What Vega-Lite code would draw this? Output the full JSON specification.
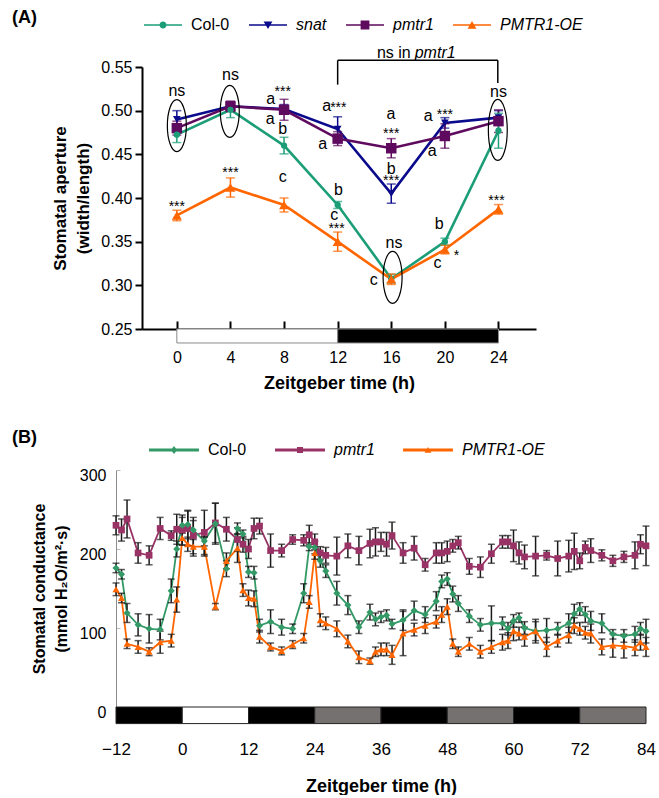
{
  "$schema": "https://vega.github.io/schema/vega-lite/v6.json",
  "padding": {"left": 12, "top": 5, "right": 5, "bottom": 0},
  "background": "white",
  "spacing": 32,
  "resolve": {"scale": {"color": "independent", "shape": "independent", "fill": "independent", "stroke": "independent"}, "legend": {"color": "independent", "shape": "independent"}},
  "config": {
    "font": "Liberation Sans",
    "view": {"stroke": null},
    "style": {"guide-title": {"lineBreak": "|"}},
    "axis": {"grid": false, "labelColor": "black", "titleColor": "black", "labelOverlap": false, "labelFlush": false},
    "legend": {"labelFont": "Liberation Sans", "labelColor": "black", "padding": 0}
  },
  "datasets": {
    "A": [
      {"t": 0, "s": "Col-0", "v": 0.4725, "e": 0.009}, {"t": 4, "s": "Col-0", "v": 0.501, "e": 0.009}, {"t": 8, "s": "Col-0", "v": 0.46, "e": 0.0095}, {"t": 12, "s": "Col-0", "v": 0.392, "e": 0.004}, {"t": 16, "s": "Col-0", "v": 0.3076, "e": 0.005}, {"t": 20, "s": "Col-0", "v": 0.35, "e": 0.004}, {"t": 24, "s": "Col-0", "v": 0.477, "e": 0.02},
      {"t": 0, "s": "snat", "v": 0.49, "e": 0.01}, {"t": 4, "s": "snat", "v": 0.505, "e": 0.004}, {"t": 8, "s": "snat", "v": 0.502, "e": 0.005}, {"t": 12, "s": "snat", "v": 0.479, "e": 0.014}, {"t": 16, "s": "snat", "v": 0.405, "e": 0.011}, {"t": 20, "s": "snat", "v": 0.486, "e": 0.006}, {"t": 24, "s": "snat", "v": 0.492, "e": 0.008},
      {"t": 0, "s": "pmtr1", "v": 0.48, "e": 0.008}, {"t": 4, "s": "pmtr1", "v": 0.505, "e": 0.006}, {"t": 8, "s": "pmtr1", "v": 0.501, "e": 0.012}, {"t": 12, "s": "pmtr1", "v": 0.468, "e": 0.008}, {"t": 16, "s": "pmtr1", "v": 0.457, "e": 0.011}, {"t": 20, "s": "pmtr1", "v": 0.471, "e": 0.014}, {"t": 24, "s": "pmtr1", "v": 0.488, "e": 0.013},
      {"t": 0, "s": "PMTR1-OE", "v": 0.38, "e": 0.006}, {"t": 4, "s": "PMTR1-OE", "v": 0.412, "e": 0.011}, {"t": 8, "s": "PMTR1-OE", "v": 0.392, "e": 0.008}, {"t": 12, "s": "PMTR1-OE", "v": 0.35, "e": 0.011}, {"t": 16, "s": "PMTR1-OE", "v": 0.307, "e": 0.006}, {"t": 20, "s": "PMTR1-OE", "v": 0.341, "e": 0.005}, {"t": 24, "s": "PMTR1-OE", "v": 0.387, "e": 0.0055}
    ],
    "Aletters": [
      {"t": 0, "v": 0.522, "lab": "ns"}, {"t": 4, "v": 0.5412, "lab": "ns"}, {"t": 16.2, "v": 0.3485, "lab": "ns"}, {"t": 24, "v": 0.521, "lab": "ns"},
      {"t": 7.0, "v": 0.5134, "lab": "a"}, {"t": 6.96, "v": 0.4905, "lab": "a"}, {"t": 11.18, "v": 0.505, "lab": "a"}, {"t": 10.88, "v": 0.4618, "lab": "a"}, {"t": 15.97, "v": 0.4962, "lab": "a"}, {"t": 18.75, "v": 0.4935, "lab": "a"}, {"t": 19.05, "v": 0.4534, "lab": "a"},
      {"t": 7.9, "v": 0.479, "lab": "b"}, {"t": 12.05, "v": 0.4095, "lab": "b"}, {"t": 16, "v": 0.4332, "lab": "b"}, {"t": 19.57, "v": 0.3706, "lab": "b"},
      {"t": 7.9, "v": 0.4237, "lab": "c"}, {"t": 11.75, "v": 0.3809, "lab": "c"}, {"t": 14.7, "v": 0.3065, "lab": "c"}, {"t": 19.45, "v": 0.3256, "lab": "c"}
    ],
    "Astars": [
      {"t": 7.9, "v": 0.5248, "lab": "***"}, {"t": 12.05, "v": 0.5069, "lab": "***"}, {"t": 11.92, "v": 0.3676, "lab": "***"}, {"t": 16, "v": 0.4771, "lab": "***"}, {"t": 16, "v": 0.4229, "lab": "***"}, {"t": 20.0, "v": 0.498, "lab": "***"}, {"t": 23.85, "v": 0.4, "lab": "***"}, {"t": 0, "v": 0.3931, "lab": "***"}, {"t": 4, "v": 0.4324, "lab": "***"}, {"t": 20.86, "v": 0.337, "lab": "*"}
    ],
    "B": [
      {"t": -12, "s": "pmtr1", "v": 230, "e": 12}, {"t": -11, "s": "pmtr1", "v": 224, "e": 14}, {"t": -10, "s": "pmtr1", "v": 238, "e": 24}, {"t": -8, "s": "pmtr1", "v": 195, "e": 13}, {"t": -6, "s": "pmtr1", "v": 192, "e": 12}, {"t": -4, "s": "pmtr1", "v": 226, "e": 14}, {"t": -2, "s": "pmtr1", "v": 217, "e": 6}, {"t": -1, "s": "pmtr1", "v": 225, "e": 19}, {"t": 0, "s": "pmtr1", "v": 224, "e": 19}, {"t": 1, "s": "pmtr1", "v": 226, "e": 22}, {"t": 2, "s": "pmtr1", "v": 217, "e": 23}, {"t": 4, "s": "pmtr1", "v": 221, "e": 28}, {"t": 6, "s": "pmtr1", "v": 233, "e": 25}, {"t": 8, "s": "pmtr1", "v": 225, "e": 15}, {"t": 10, "s": "pmtr1", "v": 212, "e": 15}, {"t": 11, "s": "pmtr1", "v": 206, "e": 10}, {"t": 12, "s": "pmtr1", "v": 200, "e": 12}, {"t": 13, "s": "pmtr1", "v": 226, "e": 13}, {"t": 14, "s": "pmtr1", "v": 229, "e": 10}, {"t": 16, "s": "pmtr1", "v": 198, "e": 21}, {"t": 18, "s": "pmtr1", "v": 198, "e": 8}, {"t": 20, "s": "pmtr1", "v": 212, "e": 6}, {"t": 22, "s": "pmtr1", "v": 211, "e": 7}, {"t": 23, "s": "pmtr1", "v": 218, "e": 12}, {"t": 24, "s": "pmtr1", "v": 209, "e": 10}, {"t": 25, "s": "pmtr1", "v": 195, "e": 8}, {"t": 26, "s": "pmtr1", "v": 192, "e": 10}, {"t": 28, "s": "pmtr1", "v": 191, "e": 24}, {"t": 30, "s": "pmtr1", "v": 204, "e": 15}, {"t": 32, "s": "pmtr1", "v": 198, "e": 18}, {"t": 34, "s": "pmtr1", "v": 207, "e": 18}, {"t": 35, "s": "pmtr1", "v": 209, "e": 18}, {"t": 36, "s": "pmtr1", "v": 209, "e": 12}, {"t": 37, "s": "pmtr1", "v": 206, "e": 15}, {"t": 38, "s": "pmtr1", "v": 217, "e": 17}, {"t": 40, "s": "pmtr1", "v": 195, "e": 13}, {"t": 42, "s": "pmtr1", "v": 201, "e": 15}, {"t": 44, "s": "pmtr1", "v": 180, "e": 8}, {"t": 46, "s": "pmtr1", "v": 195, "e": 13}, {"t": 47, "s": "pmtr1", "v": 195, "e": 13}, {"t": 48, "s": "pmtr1", "v": 197, "e": 13}, {"t": 49, "s": "pmtr1", "v": 204, "e": 8}, {"t": 50, "s": "pmtr1", "v": 208, "e": 8}, {"t": 52, "s": "pmtr1", "v": 178, "e": 10}, {"t": 54, "s": "pmtr1", "v": 177, "e": 13}, {"t": 56, "s": "pmtr1", "v": 194, "e": 12}, {"t": 58, "s": "pmtr1", "v": 209, "e": 8}, {"t": 59, "s": "pmtr1", "v": 209, "e": 8}, {"t": 60, "s": "pmtr1", "v": 204, "e": 20}, {"t": 61, "s": "pmtr1", "v": 195, "e": 14}, {"t": 62, "s": "pmtr1", "v": 190, "e": 15}, {"t": 64, "s": "pmtr1", "v": 191, "e": 25}, {"t": 66, "s": "pmtr1", "v": 192, "e": 6}, {"t": 68, "s": "pmtr1", "v": 188, "e": 22}, {"t": 70, "s": "pmtr1", "v": 191, "e": 20}, {"t": 71, "s": "pmtr1", "v": 197, "e": 23}, {"t": 72, "s": "pmtr1", "v": 185, "e": 10}, {"t": 73, "s": "pmtr1", "v": 202, "e": 8}, {"t": 74, "s": "pmtr1", "v": 198, "e": 15}, {"t": 76, "s": "pmtr1", "v": 192, "e": 7}, {"t": 78, "s": "pmtr1", "v": 185, "e": 7}, {"t": 80, "s": "pmtr1", "v": 190, "e": 7}, {"t": 82, "s": "pmtr1", "v": 192, "e": 17}, {"t": 83, "s": "pmtr1", "v": 206, "e": 12}, {"t": 84, "s": "pmtr1", "v": 204, "e": 25},
      {"t": -12, "s": "Col-0", "v": 176, "e": 6}, {"t": -11, "s": "Col-0", "v": 168, "e": 6}, {"t": -10, "s": "Col-0", "v": 119, "e": 12}, {"t": -8, "s": "Col-0", "v": 104, "e": 14}, {"t": -6, "s": "Col-0", "v": 99, "e": 18}, {"t": -4, "s": "Col-0", "v": 98, "e": 13}, {"t": -2, "s": "Col-0", "v": 147, "e": 15}, {"t": -1, "s": "Col-0", "v": 200, "e": 10}, {"t": 0, "s": "Col-0", "v": 230, "e": 10}, {"t": 1, "s": "Col-0", "v": 231, "e": 18}, {"t": 2, "s": "Col-0", "v": 224, "e": 12}, {"t": 4, "s": "Col-0", "v": 210, "e": 6}, {"t": 6, "s": "Col-0", "v": 232, "e": 26}, {"t": 8, "s": "Col-0", "v": 175, "e": 10}, {"t": 10, "s": "Col-0", "v": 226, "e": 7}, {"t": 11, "s": "Col-0", "v": 219, "e": 5}, {"t": 12, "s": "Col-0", "v": 171, "e": 7}, {"t": 13, "s": "Col-0", "v": 170, "e": 8}, {"t": 14, "s": "Col-0", "v": 103, "e": 8}, {"t": 16, "s": "Col-0", "v": 108, "e": 15}, {"t": 18, "s": "Col-0", "v": 101, "e": 10}, {"t": 20, "s": "Col-0", "v": 99, "e": 6}, {"t": 22, "s": "Col-0", "v": 144, "e": 12}, {"t": 23, "s": "Col-0", "v": 203, "e": 5}, {"t": 24, "s": "Col-0", "v": 202, "e": 8}, {"t": 25, "s": "Col-0", "v": 185, "e": 8}, {"t": 26, "s": "Col-0", "v": 172, "e": 8}, {"t": 28, "s": "Col-0", "v": 144, "e": 15}, {"t": 30, "s": "Col-0", "v": 129, "e": 12}, {"t": 32, "s": "Col-0", "v": 101, "e": 8}, {"t": 34, "s": "Col-0", "v": 120, "e": 10}, {"t": 35, "s": "Col-0", "v": 111, "e": 8}, {"t": 36, "s": "Col-0", "v": 114, "e": 7}, {"t": 37, "s": "Col-0", "v": 116, "e": 7}, {"t": 38, "s": "Col-0", "v": 105, "e": 6}, {"t": 40, "s": "Col-0", "v": 110, "e": 13}, {"t": 42, "s": "Col-0", "v": 122, "e": 12}, {"t": 44, "s": "Col-0", "v": 117, "e": 10}, {"t": 46, "s": "Col-0", "v": 134, "e": 12}, {"t": 47, "s": "Col-0", "v": 159, "e": 8}, {"t": 48, "s": "Col-0", "v": 162, "e": 8}, {"t": 49, "s": "Col-0", "v": 143, "e": 10}, {"t": 50, "s": "Col-0", "v": 131, "e": 10}, {"t": 52, "s": "Col-0", "v": 115, "e": 8}, {"t": 54, "s": "Col-0", "v": 104, "e": 8}, {"t": 56, "s": "Col-0", "v": 106, "e": 22}, {"t": 58, "s": "Col-0", "v": 106, "e": 8}, {"t": 59, "s": "Col-0", "v": 99, "e": 8}, {"t": 60, "s": "Col-0", "v": 109, "e": 8}, {"t": 61, "s": "Col-0", "v": 113, "e": 6}, {"t": 62, "s": "Col-0", "v": 100, "e": 8}, {"t": 64, "s": "Col-0", "v": 96, "e": 12}, {"t": 66, "s": "Col-0", "v": 97, "e": 15}, {"t": 68, "s": "Col-0", "v": 99, "e": 8}, {"t": 70, "s": "Col-0", "v": 106, "e": 12}, {"t": 71, "s": "Col-0", "v": 118, "e": 12}, {"t": 72, "s": "Col-0", "v": 124, "e": 8}, {"t": 73, "s": "Col-0", "v": 117, "e": 10}, {"t": 74, "s": "Col-0", "v": 109, "e": 12}, {"t": 76, "s": "Col-0", "v": 106, "e": 12}, {"t": 78, "s": "Col-0", "v": 92, "e": 6}, {"t": 80, "s": "Col-0", "v": 90, "e": 8}, {"t": 82, "s": "Col-0", "v": 92, "e": 10}, {"t": 83, "s": "Col-0", "v": 99, "e": 8}, {"t": 84, "s": "Col-0", "v": 96, "e": 15},
      {"t": -12, "s": "PMTR1-OE", "v": 149, "e": 8}, {"t": -11, "s": "PMTR1-OE", "v": 138, "e": 6}, {"t": -10, "s": "PMTR1-OE", "v": 80, "e": 6}, {"t": -8, "s": "PMTR1-OE", "v": 76, "e": 8}, {"t": -6, "s": "PMTR1-OE", "v": 70, "e": 5}, {"t": -4, "s": "PMTR1-OE", "v": 82, "e": 14}, {"t": -2, "s": "PMTR1-OE", "v": 84, "e": 8}, {"t": -1, "s": "PMTR1-OE", "v": 136, "e": 16}, {"t": 0, "s": "PMTR1-OE", "v": 214, "e": 9}, {"t": 1, "s": "PMTR1-OE", "v": 206, "e": 9}, {"t": 2, "s": "PMTR1-OE", "v": 203, "e": 12}, {"t": 4, "s": "PMTR1-OE", "v": 203, "e": 12}, {"t": 6, "s": "PMTR1-OE", "v": 127, "e": 4}, {"t": 8, "s": "PMTR1-OE", "v": 185, "e": 10}, {"t": 10, "s": "PMTR1-OE", "v": 201, "e": 18}, {"t": 11, "s": "PMTR1-OE", "v": 148, "e": 8}, {"t": 12, "s": "PMTR1-OE", "v": 138, "e": 10}, {"t": 13, "s": "PMTR1-OE", "v": 137, "e": 10}, {"t": 14, "s": "PMTR1-OE", "v": 89, "e": 8}, {"t": 16, "s": "PMTR1-OE", "v": 76, "e": 5}, {"t": 18, "s": "PMTR1-OE", "v": 71, "e": 5}, {"t": 20, "s": "PMTR1-OE", "v": 79, "e": 5}, {"t": 22, "s": "PMTR1-OE", "v": 87, "e": 6}, {"t": 23, "s": "PMTR1-OE", "v": 133, "e": 8}, {"t": 24, "s": "PMTR1-OE", "v": 195, "e": 8}, {"t": 25, "s": "PMTR1-OE", "v": 110, "e": 8}, {"t": 26, "s": "PMTR1-OE", "v": 106, "e": 8}, {"t": 28, "s": "PMTR1-OE", "v": 99, "e": 10}, {"t": 30, "s": "PMTR1-OE", "v": 83, "e": 8}, {"t": 32, "s": "PMTR1-OE", "v": 63, "e": 8}, {"t": 34, "s": "PMTR1-OE", "v": 58, "e": 4}, {"t": 35, "s": "PMTR1-OE", "v": 70, "e": 6}, {"t": 36, "s": "PMTR1-OE", "v": 73, "e": 8}, {"t": 37, "s": "PMTR1-OE", "v": 73, "e": 8}, {"t": 38, "s": "PMTR1-OE", "v": 66, "e": 12}, {"t": 40, "s": "PMTR1-OE", "v": 93, "e": 28}, {"t": 42, "s": "PMTR1-OE", "v": 98, "e": 8}, {"t": 44, "s": "PMTR1-OE", "v": 103, "e": 10}, {"t": 46, "s": "PMTR1-OE", "v": 108, "e": 8}, {"t": 47, "s": "PMTR1-OE", "v": 117, "e": 10}, {"t": 48, "s": "PMTR1-OE", "v": 127, "e": 10}, {"t": 49, "s": "PMTR1-OE", "v": 80, "e": 6}, {"t": 50, "s": "PMTR1-OE", "v": 70, "e": 6}, {"t": 52, "s": "PMTR1-OE", "v": 80, "e": 8}, {"t": 54, "s": "PMTR1-OE", "v": 70, "e": 8}, {"t": 56, "s": "PMTR1-OE", "v": 76, "e": 8}, {"t": 58, "s": "PMTR1-OE", "v": 82, "e": 10}, {"t": 59, "s": "PMTR1-OE", "v": 84, "e": 10}, {"t": 60, "s": "PMTR1-OE", "v": 96, "e": 12}, {"t": 61, "s": "PMTR1-OE", "v": 93, "e": 8}, {"t": 62, "s": "PMTR1-OE", "v": 89, "e": 12}, {"t": 64, "s": "PMTR1-OE", "v": 96, "e": 15}, {"t": 66, "s": "PMTR1-OE", "v": 76, "e": 12}, {"t": 68, "s": "PMTR1-OE", "v": 84, "e": 8}, {"t": 70, "s": "PMTR1-OE", "v": 91, "e": 10}, {"t": 71, "s": "PMTR1-OE", "v": 103, "e": 10}, {"t": 72, "s": "PMTR1-OE", "v": 99, "e": 8}, {"t": 73, "s": "PMTR1-OE", "v": 94, "e": 8}, {"t": 74, "s": "PMTR1-OE", "v": 93, "e": 12}, {"t": 76, "s": "PMTR1-OE", "v": 76, "e": 10}, {"t": 78, "s": "PMTR1-OE", "v": 78, "e": 15}, {"t": 80, "s": "PMTR1-OE", "v": 77, "e": 15}, {"t": 82, "s": "PMTR1-OE", "v": 75, "e": 10}, {"t": 83, "s": "PMTR1-OE", "v": 82, "e": 10}, {"t": 84, "s": "PMTR1-OE", "v": 76, "e": 12}
    ]
  },
  "vconcat": [
    {
      "width": 420,
      "height": 262,
      "title": {"text": "(A)", "anchor": "start", "frame": "group", "fontSize": 18, "fontWeight": "bold", "dx": -104, "dy": 26, "color": "black"},
      "layer": [
        {
          "data": {"name": "A"},
          "mark": {"type": "line", "strokeWidth": 2.6},
          "encoding": {
            "x": {"field": "t", "type": "quantitative", "scale": {"domain": [-2.6, 26.8], "range": [26, 420], "nice": false, "zero": false},
              "axis": {"values": [0, 4, 8, 12, 16, 20, 24], "title": "Zeitgeber time (h)", "domainWidth": 2, "domainColor": "black", "tickWidth": 2, "tickColor": "black", "tickSize": -8, "labelPadding": 28, "labelFontSize": 16, "titleFontSize": 18, "titleFontWeight": "bold", "titlePadding": 9}},
            "y": {"field": "v", "type": "quantitative", "scale": {"domain": [0.25, 0.55], "nice": false, "zero": false},
              "axis": {"values": [0.25, 0.3, 0.35, 0.4, 0.45, 0.5, 0.55], "format": ".2f", "title": "Stomatal aperture|(width/length)", "offset": -26, "domainWidth": 2, "domainColor": "black", "tickWidth": 2, "tickColor": "black", "tickSize": 7, "labelPadding": 3, "labelFontSize": 16, "titleFontSize": 17, "titleFontWeight": "bold", "titlePadding": 8, "titleLineHeight": 23}},
            "stroke": {"field": "s", "type": "nominal", "scale": {"domain": ["snat", "pmtr1", "Col-0", "PMTR1-OE"], "range": ["#0a0a8c", "#5e0a5e", "#1b9e77", "#ff6600"]}, "legend": null}
          }
        },
        {
          "data": {"values": [{"a": 0, "b": 12, "p": "light"}, {"a": 12, "b": 24, "p": "dark"}]},
          "mark": {"type": "rect", "stroke": "#8a8a8a", "strokeWidth": 1},
          "encoding": {
            "x": {"field": "a", "type": "quantitative"},
            "x2": {"field": "b"},
            "y": {"datum": 0.25, "type": "quantitative"},
            "y2": {"datum": 0.234},
            "fill": {"field": "p", "type": "nominal", "scale": {"domain": ["light", "dark"], "range": ["white", "black"]}, "legend": null}
          }
        },
        {
          "data": {"values": [{"t": 12, "t2": 12, "v": 0.5298, "v2": 0.5576}, {"t": 12, "t2": 23.95, "v": 0.5576, "v2": 0.5576}, {"t": 23.95, "t2": 23.95, "v": 0.5576, "v2": 0.5317}]},
          "mark": {"type": "rule", "color": "black", "strokeWidth": 1.5},
          "encoding": {"x": {"field": "t", "type": "quantitative"}, "x2": {"field": "t2"}, "y": {"field": "v", "type": "quantitative"}, "y2": {"field": "v2"}}
        },
        {
          "data": {"values": [{"t": 17.6, "v": 0.5664}]},
          "mark": {"type": "text", "text": "ns in", "align": "right", "baseline": "middle", "dx": -2, "fontSize": 16, "color": "black"},
          "encoding": {"x": {"field": "t", "type": "quantitative"}, "y": {"field": "v", "type": "quantitative"}}
        },
        {
          "data": {"values": [{"t": 17.6, "v": 0.5664}]},
          "mark": {"type": "text", "text": "pmtr1", "align": "left", "baseline": "middle", "dx": 2, "fontSize": 16, "fontStyle": "italic", "color": "black"},
          "encoding": {"x": {"field": "t", "type": "quantitative"}, "y": {"field": "v", "type": "quantitative"}}
        },
        {
          "data": {"values": [{"t": 0, "v": 0.4828}, {"t": 3.95, "v": 0.4992}, {"t": 16.1, "v": 0.3092}]},
          "mark": {"type": "point", "shape": "M0,-1 A0.365,1 0 1,1 0,1 A0.365,1 0 1,1 0,-1 Z", "size": 2704, "filled": false, "stroke": "black", "strokeWidth": 1.2, "opacity": 1},
          "encoding": {"x": {"field": "t", "type": "quantitative"}, "y": {"field": "v", "type": "quantitative"}}
        },
        {
          "data": {"values": [{"t": 23.95, "v": 0.4779}]},
          "mark": {"type": "point", "shape": "M0,-1 A0.31,1 0 1,1 0,1 A0.31,1 0 1,1 0,-1 Z", "size": 3721, "filled": false, "stroke": "black", "strokeWidth": 1.2, "opacity": 1},
          "encoding": {"x": {"field": "t", "type": "quantitative"}, "y": {"field": "v", "type": "quantitative"}}
        },
        {
          "data": {"name": "A"},
          "transform": [{"filter": {"field": "s", "equal": "snat"}}],
          "mark": {"type": "errorbar", "ticks": true, "size": 9, "thickness": 1.5, "color": "#0a0a8c"},
          "encoding": {"x": {"field": "t", "type": "quantitative"}, "y": {"field": "v", "type": "quantitative", "title": "Stomatal aperture|(width/length)"}, "yError": {"field": "e"}}
        },
        {
          "data": {"name": "A"},
          "transform": [{"filter": {"field": "s", "equal": "pmtr1"}}],
          "mark": {"type": "errorbar", "ticks": true, "size": 9, "thickness": 1.5, "color": "#5e0a5e"},
          "encoding": {"x": {"field": "t", "type": "quantitative"}, "y": {"field": "v", "type": "quantitative", "title": "Stomatal aperture|(width/length)"}, "yError": {"field": "e"}}
        },
        {
          "data": {"name": "A"},
          "transform": [{"filter": {"field": "s", "equal": "Col-0"}}],
          "mark": {"type": "errorbar", "ticks": true, "size": 9, "thickness": 1.5, "color": "#1b9e77"},
          "encoding": {"x": {"field": "t", "type": "quantitative"}, "y": {"field": "v", "type": "quantitative", "title": "Stomatal aperture|(width/length)"}, "yError": {"field": "e"}}
        },
        {
          "data": {"name": "A"},
          "transform": [{"filter": {"field": "s", "equal": "PMTR1-OE"}}],
          "mark": {"type": "errorbar", "ticks": true, "size": 9, "thickness": 1.5, "color": "#ff6600"},
          "encoding": {"x": {"field": "t", "type": "quantitative"}, "y": {"field": "v", "type": "quantitative", "title": "Stomatal aperture|(width/length)"}, "yError": {"field": "e"}}
        },
        {
          "data": {"name": "A"},
          "transform": [{"filter": {"field": "s", "equal": "snat"}}],
          "mark": {"type": "point", "shape": "triangle-down", "size": 60, "filled": true, "opacity": 1, "color": "#0a0a8c"},
          "encoding": {"x": {"field": "t", "type": "quantitative"}, "y": {"field": "v", "type": "quantitative"}}
        },
        {
          "data": {"name": "A"},
          "transform": [{"filter": {"field": "s", "equal": "pmtr1"}}],
          "mark": {"type": "point", "shape": "square", "size": 110, "filled": true, "opacity": 1, "color": "#5e0a5e"},
          "encoding": {"x": {"field": "t", "type": "quantitative"}, "y": {"field": "v", "type": "quantitative"}}
        },
        {
          "data": {"name": "A"},
          "transform": [{"filter": {"field": "s", "equal": "Col-0"}}],
          "mark": {"type": "point", "shape": "circle", "size": 40, "filled": true, "opacity": 1, "color": "#1b9e77"},
          "encoding": {"x": {"field": "t", "type": "quantitative"}, "y": {"field": "v", "type": "quantitative"}}
        },
        {
          "data": {"name": "A"},
          "transform": [{"filter": {"field": "s", "equal": "PMTR1-OE"}}],
          "mark": {"type": "point", "shape": "triangle-up", "size": 100, "filled": true, "opacity": 1, "color": "#ff6600"},
          "encoding": {"x": {"field": "t", "type": "quantitative"}, "y": {"field": "v", "type": "quantitative"}}
        },
        {
          "data": {"name": "Aletters"},
          "mark": {"type": "text", "fontSize": 16, "baseline": "middle", "align": "center", "color": "black"},
          "encoding": {"x": {"field": "t", "type": "quantitative"}, "y": {"field": "v", "type": "quantitative"}, "text": {"field": "lab"}}
        },
        {
          "data": {"name": "Astars"},
          "mark": {"type": "text", "fontSize": 14, "baseline": "middle", "align": "center", "dy": 3, "color": "black"},
          "encoding": {"x": {"field": "t", "type": "quantitative"}, "y": {"field": "v", "type": "quantitative"}, "text": {"field": "lab"}}
        },
        {
          "data": {"values": [{"s": "Col-0"}, {"s": "snat"}, {"s": "pmtr1"}, {"s": "PMTR1-OE"}]},
          "transform": [{"filter": "false"}],
          "mark": {"type": "point", "filled": true, "opacity": 1, "strokeWidth": 0},
          "encoding": {
            "color": {"field": "s", "type": "nominal", "scale": {"domain": ["Col-0", "snat", "pmtr1", "PMTR1-OE"], "range": ["#1b9e77", "#0a0a8c", "#5e0a5e", "#ff6600"]},
              "legend": {"orient": "none", "legendX": 27, "legendY": -62, "direction": "horizontal", "title": null, "symbolSize": 1600, "symbolStrokeWidth": 0, "labelFontSize": 16, "labelOffset": 8, "columnPadding": 18,
                "labelFontStyle": {"expr": "datum.label === 'Col-0' ? 'normal' : 'italic'"}}},
            "shape": {"field": "s", "type": "nominal", "scale": {"domain": ["Col-0", "snat", "pmtr1", "PMTR1-OE"], "range": [
              "M-0.95,-0.04 H0.95 V0.04 H-0.95 Z M0.175,0 A0.175,0.175 0 1,1 -0.175,0 A0.175,0.175 0 1,1 0.175,0 Z",
              "M-0.95,-0.04 H0.95 V0.04 H-0.95 Z M-0.22,-0.17 L0.22,-0.17 L0,0.2 Z",
              "M-0.95,-0.04 H0.95 V0.04 H-0.95 Z M-0.22,-0.22 H0.22 V0.22 H-0.22 Z",
              "M-0.95,-0.04 H0.95 V0.04 H-0.95 Z M-0.22,0.19 L0,-0.2 L0.22,0.19 Z"]},
              "legend": {"orient": "none", "legendX": 27, "legendY": -62, "direction": "horizontal", "title": null, "symbolSize": 1600, "symbolStrokeWidth": 0, "labelFontSize": 16, "labelOffset": 8, "columnPadding": 18,
                "labelFontStyle": {"expr": "datum.label === 'Col-0' ? 'normal' : 'italic'"}}}
          }
        }
      ]
    },
    {
      "width": 530,
      "height": 237,
      "title": {"text": "(B)", "anchor": "start", "frame": "group", "fontSize": 18, "fontWeight": "bold", "dx": -104, "dy": 27, "color": "black"},
      "layer": [
        {
          "data": {"name": "B"},
          "mark": {"type": "line", "strokeWidth": 1.8},
          "encoding": {
            "x": {"field": "t", "type": "quantitative", "scale": {"domain": [-12, 84], "nice": false, "zero": false},
              "axis": {"values": [-12, 0, 12, 24, 36, 48, 60, 72, 84], "title": "Zeitgeber time (h)", "domain": false, "ticks": false, "labelPadding": 34, "labelFontSize": 17, "titleFontSize": 18, "titleFontWeight": "bold", "titlePadding": 20}},
            "y": {"field": "v", "type": "quantitative", "scale": {"domain": [0, 300], "nice": false, "zero": false},
              "axis": {"values": [0, 50, 100, 150, 200, 250, 300], "title": "Stomatal conductance|(mmol H₂O/m²·s)", "domainColor": "#8c8c8c", "domainWidth": 1, "tickColor": "#bbbbbb", "tickSize": -4, "labelPadding": 14, "labelOffset": 5, "labelFontSize": 16, "titleFontSize": 16, "titleFontWeight": "bold", "titlePadding": 10, "titleLineHeight": 22}},
            "stroke": {"field": "s", "type": "nominal", "scale": {"domain": ["pmtr1", "Col-0", "PMTR1-OE"], "range": ["#993366", "#339966", "#ff6600"]}, "legend": null}
          }
        },
        {
          "data": {"values": [{"a": -12, "b": 0, "p": "dark"}, {"a": 0, "b": 12, "p": "light"}, {"a": 12, "b": 24, "p": "dark"}, {"a": 24, "b": 36, "p": "subjective"}, {"a": 36, "b": 48, "p": "dark"}, {"a": 48, "b": 60, "p": "subjective"}, {"a": 60, "b": 72, "p": "dark"}, {"a": 72, "b": 84, "p": "subjective"}]},
          "mark": {"type": "rect", "stroke": "#222222", "strokeWidth": 1},
          "encoding": {
            "x": {"field": "a", "type": "quantitative"},
            "x2": {"field": "b"},
            "y": {"datum": 0, "type": "quantitative"},
            "y2": {"datum": -21},
            "fill": {"field": "p", "type": "nominal", "scale": {"domain": ["dark", "light", "subjective"], "range": ["black", "white", "#767171"]}, "legend": null}
          }
        },
        {
          "data": {"name": "B"},
          "mark": {"type": "errorbar", "ticks": true, "size": 7, "thickness": 1.5, "color": "#1a1a1a"},
          "encoding": {"x": {"field": "t", "type": "quantitative"}, "y": {"field": "v", "type": "quantitative", "title": "Stomatal conductance|(mmol H₂O/m²·s)"}, "yError": {"field": "e"}}
        },
        {
          "data": {"name": "B"},
          "transform": [{"filter": {"field": "s", "equal": "pmtr1"}}],
          "mark": {"type": "point", "shape": "square", "size": 45, "filled": true, "opacity": 1, "color": "#993366"},
          "encoding": {"x": {"field": "t", "type": "quantitative"}, "y": {"field": "v", "type": "quantitative"}}
        },
        {
          "data": {"name": "B"},
          "transform": [{"filter": {"field": "s", "equal": "Col-0"}}],
          "mark": {"type": "point", "shape": "diamond", "size": 50, "filled": true, "opacity": 1, "color": "#339966"},
          "encoding": {"x": {"field": "t", "type": "quantitative"}, "y": {"field": "v", "type": "quantitative"}}
        },
        {
          "data": {"name": "B"},
          "transform": [{"filter": {"field": "s", "equal": "PMTR1-OE"}}],
          "mark": {"type": "point", "shape": "triangle-up", "size": 50, "filled": true, "opacity": 1, "color": "#ff6600"},
          "encoding": {"x": {"field": "t", "type": "quantitative"}, "y": {"field": "v", "type": "quantitative"}}
        },
        {
          "data": {"values": [{"s": "Col-0"}, {"s": "pmtr1"}, {"s": "PMTR1-OE"}]},
          "transform": [{"filter": "false"}],
          "mark": {"type": "point", "filled": true, "opacity": 1, "strokeWidth": 0},
          "encoding": {
            "color": {"field": "s", "type": "nominal", "scale": {"domain": ["Col-0", "pmtr1", "PMTR1-OE"], "range": ["#339966", "#993366", "#ff6600"]},
              "legend": {"orient": "none", "legendX": 32, "legendY": -46, "direction": "horizontal", "title": null, "symbolSize": 2704, "symbolStrokeWidth": 0, "labelFontSize": 16, "labelOffset": 8, "columnPadding": 27,
                "labelFontStyle": {"expr": "datum.label === 'Col-0' ? 'normal' : 'italic'"}}},
            "shape": {"field": "s", "type": "nominal", "scale": {"domain": ["Col-0", "pmtr1", "PMTR1-OE"], "range": [
              "M-0.96,-0.058 H0.96 V0.058 H-0.96 Z M0,-0.15 L0.12,0 L0,0.15 L-0.12,0 Z",
              "M-0.96,-0.058 H0.96 V0.058 H-0.96 Z M-0.115,-0.115 H0.115 V0.115 H-0.115 Z",
              "M-0.96,-0.058 H0.96 V0.058 H-0.96 Z M-0.13,0.11 L0,-0.12 L0.13,0.11 Z"]},
              "legend": {"orient": "none", "legendX": 32, "legendY": -46, "direction": "horizontal", "title": null, "symbolSize": 2704, "symbolStrokeWidth": 0, "labelFontSize": 16, "labelOffset": 8, "columnPadding": 27,
                "labelFontStyle": {"expr": "datum.label === 'Col-0' ? 'normal' : 'italic'"}}}
          }
        }
      ]
    }
  ]
}
